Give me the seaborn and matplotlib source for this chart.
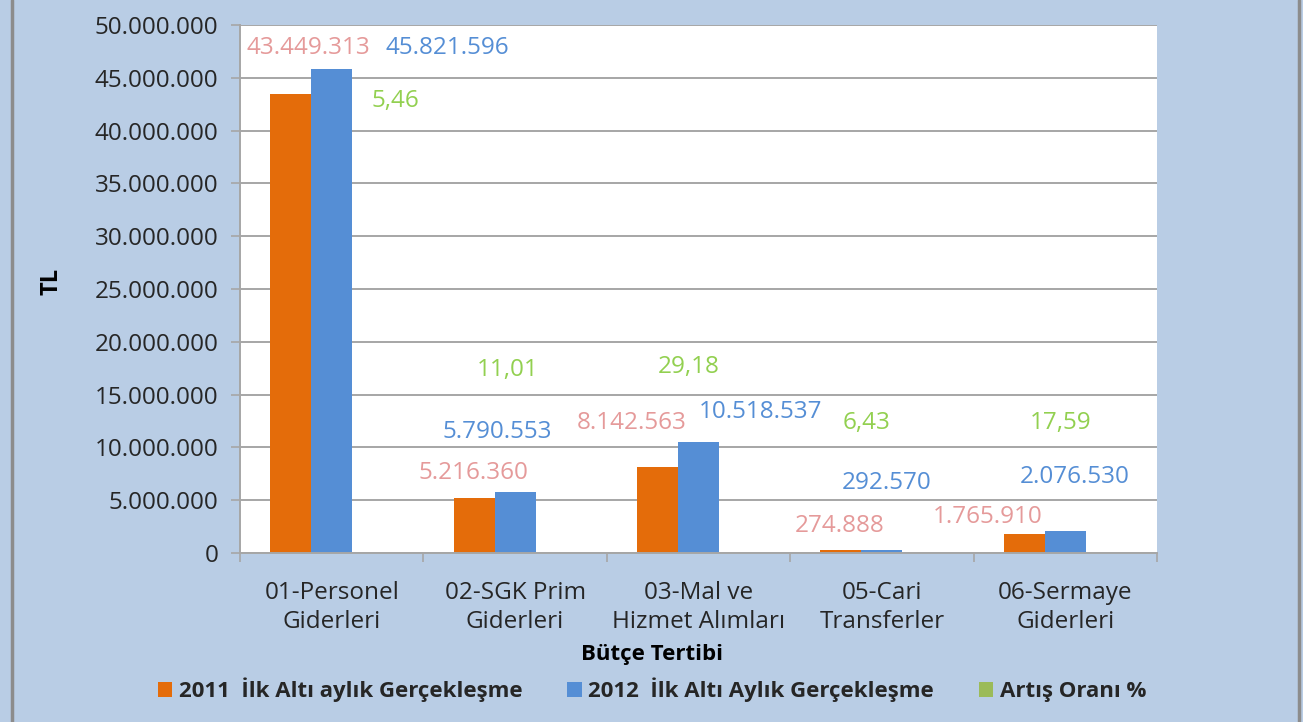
import numpy as np
import pandas as pd
import matplotlib
matplotlib.use("Agg")
import matplotlib.pyplot as plt
import seaborn as sns
from matplotlib.patches import Patch
from matplotlib.lines import Line2D
from matplotlib.ticker import FuncFormatter, FixedLocator

# data
categories = ["01-Personel\nGiderleri", "02-SGK Prim\nGiderleri", "03-Mal ve\nHizmet Alımları",
              "05-Cari\nTransferler", "06-Sermaye\nGiderleri"]
series = ["2011  İlk Altı aylık Gerçekleşme", "2012  İlk Altı Aylık Gerçekleşme", "Artış Oranı %"]
values_2011 = [43449313, 5216360, 8142563, 274888, 1765910]
values_2012 = [45821596, 5790553, 10518537, 292570, 2076530]
artis_orani = [5.46, 11.01, 29.18, 6.43, 17.59]

bar_colors = ["#E46C0A", "#558ED5", "#9BBB59"]
label_colors = ["#E59A9A", "#558ED5", "#92D050"]

# manual label offsets (pixels, from the bar top) as they were dragged in the original
label_offsets = [
    [(18, 46), (-1, 25), (-26, 44), (-1, 24), (-37, 17)],
    [(116, 21), (-18, 60), (62, 30), (5, 67), (9, 54)],
    [(23, 452), (-48, 183), (-51, 186), (-56, 130), (-46, 130)],
]

df = pd.DataFrame({
    "kategori": categories * 3,
    "seri": [s for s in series for _ in categories],
    "deger": values_2011 + values_2012 + artis_orani,
})

sns.set_style("white")
plt.rcParams["font.family"] = ["Open Sans", "DejaVu Sans"]

fig = plt.figure(figsize=(13.03, 7.22), dpi=100, facecolor="#B9CDE5")
ax = fig.add_axes([240 / 1303, 1 - 553 / 722, (1157 - 240) / 1303, (553 - 25) / 722])
ax.set_facecolor("white")

sns.barplot(data=df, x="kategori", y="deger", hue="seri", order=categories, hue_order=series,
            palette=bar_colors, width=0.67, gap=0, saturation=1, legend=False, ax=ax,
            linewidth=0)

ax.set_xlim(-0.5, 4.5)
ax.set_ylim(0, 50000000)
ax.set_yticks(np.arange(0, 50000001, 5000000))
ax.yaxis.set_major_formatter(FuncFormatter(lambda v, p: f"{int(v):,}".replace(",", ".")))
ax.grid(axis="y", color="#A6A6A6", linewidth=1.4)
ax.set_axisbelow(True)

for side in ["top", "right"]:
    ax.spines[side].set_visible(False)
for side in ["left", "bottom"]:
    ax.spines[side].set_color("#A6A6A6")
    ax.spines[side].set_linewidth(1.4)

ax.tick_params(axis="y", which="major", length=6.5, width=1.2, color="#A6A6A6",
               labelsize=17.5, labelcolor="#262626", pad=9, direction="out", left=True)
ax.xaxis.set_minor_locator(FixedLocator(np.arange(-0.5, 5, 1)))
ax.tick_params(axis="x", which="major", length=0, labelsize=17.5, labelcolor="#262626", pad=20)
ax.tick_params(axis="x", which="minor", length=6.5, width=1.2, color="#A6A6A6",
               direction="out", bottom=True)
for t in ax.get_xticklabels():
    t.set_linespacing(1.3)

ax.set_xlabel("Bütçe Tertibi", fontsize=16, fontweight="bold", color="black")
ax.xaxis.set_label_coords(0.449, -0.172)
ax.set_ylabel("TL", fontsize=17, fontweight="bold", color="black")
ax.yaxis.set_label_coords(-177 / 917, 0.515)

# data labels
for i, cont in enumerate(ax.containers):
    for j, bar in enumerate(cont):
        v = df[df["seri"] == series[i]]["deger"].iloc[j]
        if i < 2:
            txt = f"{int(v):,}".replace(",", ".")
        else:
            txt = f"{v:.2f}".replace(".", ",")
        dx, dy = label_offsets[i][j]
        ax.annotate(txt, xy=(bar.get_x() + bar.get_width() / 2, bar.get_height()),
                    xytext=(dx, dy), textcoords="offset pixels", ha="center", va="center",
                    fontsize=17.5, color=label_colors[i], annotation_clip=False)

handles = [Patch(facecolor=c, edgecolor="none") for c in bar_colors]
fig.legend(handles, series, loc="center", bbox_to_anchor=(652 / 1303, 1 - 690 / 722), ncol=3,
           frameon=False, prop={"weight": "bold", "size": 16}, handlelength=0.65, handleheight=0.65,
           handletextpad=0.3, columnspacing=2.0)

# outer frame lines of the chart area
fig.add_artist(Line2D([12 / 1303, 12 / 1303], [0, 1], color="#8C8C8C", linewidth=2.5))
fig.add_artist(Line2D([1299 / 1303, 1299 / 1303], [0, 1], color="#8C8C8C", linewidth=2.5))

fig.savefig("out.png", dpi=100, facecolor=fig.get_facecolor())
